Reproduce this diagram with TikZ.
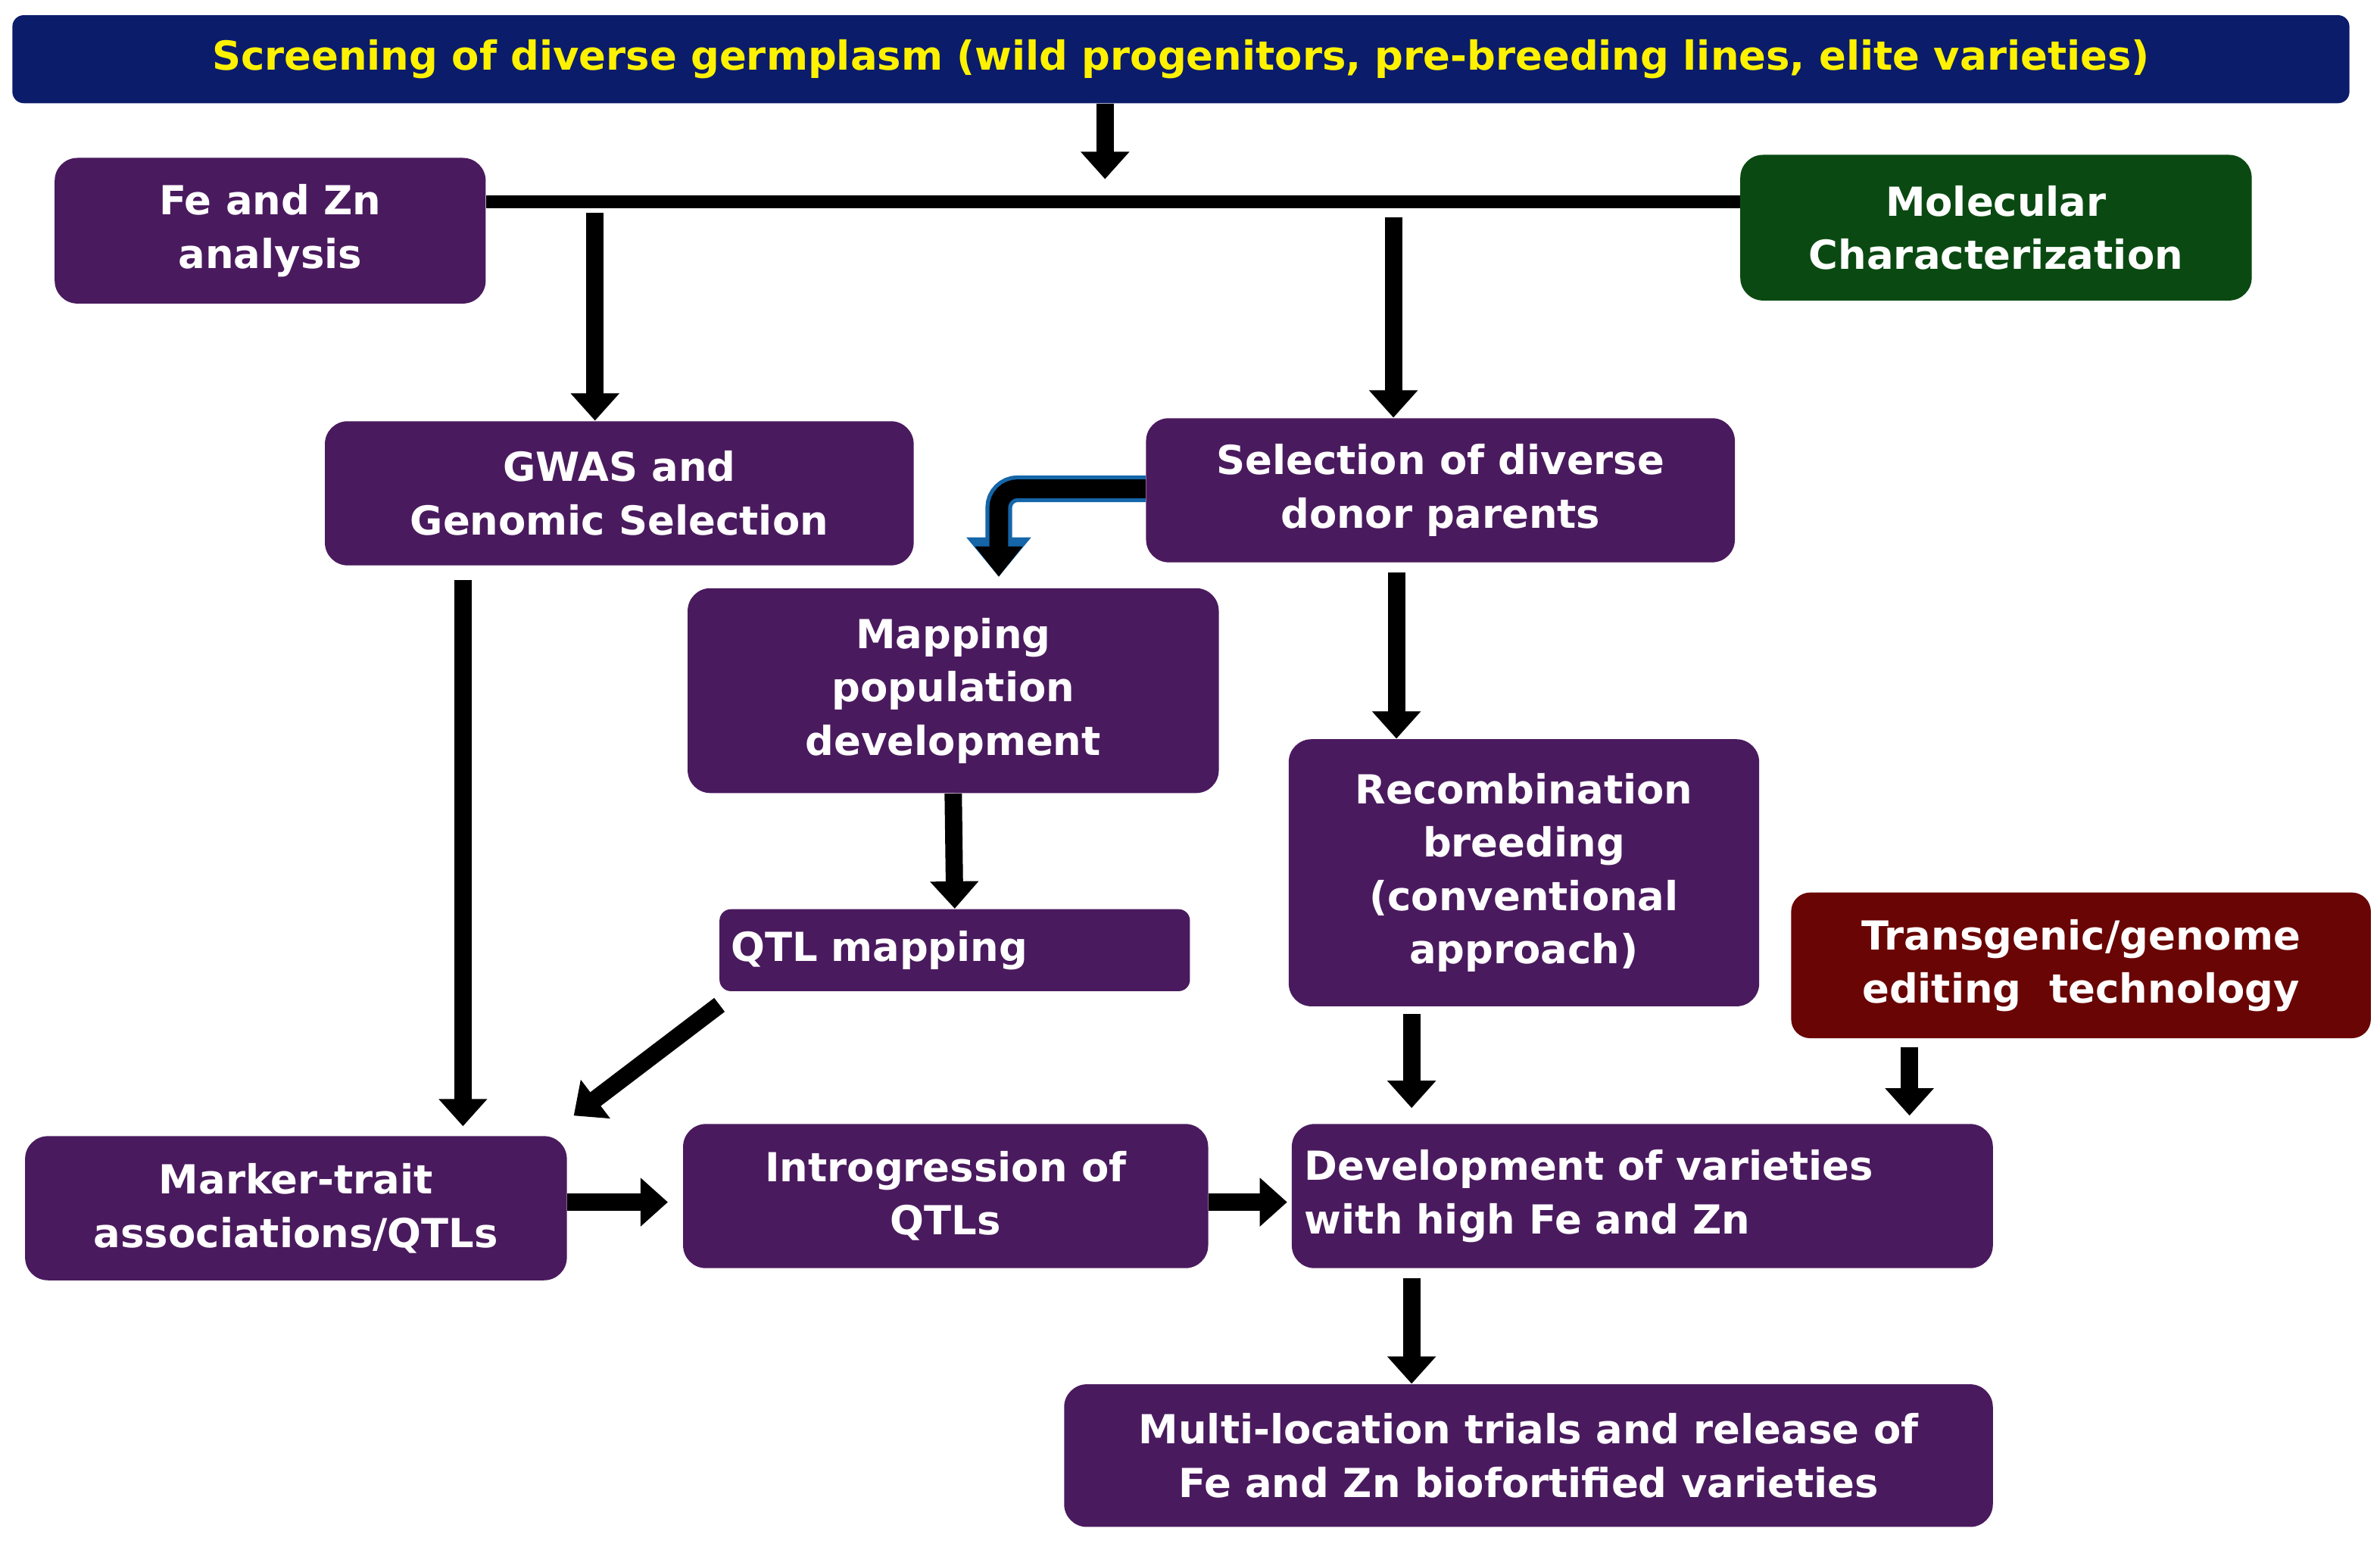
\documentclass[tikz,border=0pt]{standalone}
\usepackage{fontspec}
\setmainfont{DejaVu Sans}
\usetikzlibrary{arrows.meta,positioning}
\definecolor{boxpurple}{HTML}{4A1A5E}
\definecolor{titleblue}{HTML}{0B1C6B}
\definecolor{molgreen}{HTML}{0A4A12}
\definecolor{transred}{HTML}{6A0505}
\definecolor{edgeblue}{HTML}{1466A8}
\tikzset{
  box/.style={draw=none, fill=boxpurple, rounded corners=0.3cm, text=white,
    font=\bfseries\fontsize{15}{20}\selectfont, align=center, inner sep=2pt},
  fatarrow/.style={line width=6.5pt, draw=black,
    -{Triangle[width=0.62cm,length=0.36cm]}},
  bluearrow/.style={line width=7pt, draw=black, rounded corners=0.25cm,
    -{Triangle[width=0.6cm,length=0.4cm]},
    preaction={draw=edgeblue, line width=10pt,
      -{Triangle[width=0.82cm,length=0.52cm]}}}
}
\begin{document}
\begin{tikzpicture}[x=0.02cm,y=-0.02cm]
  \useasboundingbox (0,0) rectangle (1568,1017);

  % title and first row
  \node[box, fill=titleblue, text=yellow, rounded corners=0.15cm,
    minimum width=30.8cm, minimum height=1.16cm] (title) at (778,39)
    {Screening of diverse germplasm (wild progenitors, pre-breeding lines, elite varieties)};
  \node[box, minimum width=5.68cm, minimum height=1.92cm] (fezn) at (178,152) {Fe and Zn\\analysis};
  \node[box, fill=molgreen, minimum width=6.74cm, minimum height=1.92cm] (molchar) at (1315,150) {Molecular\\Characterization};
  \draw[line width=5pt] (fezn.east |- 0,133) -- (molchar.west |- 0,133);
  \coordinate (split) at (728,118);
  \draw[fatarrow] (title.south -| split) -- (split);

  % second row
  \node[box, minimum width=7.76cm, minimum height=1.9cm] (gwas) at (408,325) {GWAS and\\Genomic Selection};
  \node[box, minimum width=7.76cm, minimum height=1.9cm] (select) at (949,323) {Selection of diverse\\donor parents};
  \coordinate (gwastop) at (392,140);
  \coordinate (seltop) at (918,143);
  \draw[fatarrow] (gwastop) -- (gwastop |- gwas.north);
  \draw[fatarrow] (seltop) -- (seltop |- select.north);

  % mapping branch
  \node[box, minimum width=7.0cm, minimum height=2.7cm] (mapping) at (628,455) {Mapping\\population\\development};
  \coordinate (bend) at (658,322);
  \draw[bluearrow] (select.west |- bend) -- (bend) -- (658,380);
  \node[box, rounded corners=0.15cm, minimum width=6.2cm, minimum height=1.08cm,
    text width=5.9cm, align=left] (qtl) at (629,626) {QTL mapping};
  \draw[fatarrow] (mapping.south) -- (qtl.north);

  % conventional branch
  \node[box, minimum width=6.2cm, minimum height=3.52cm] (recomb) at (1004,575) {Recombination\\breeding\\(conventional\\approach)};
  \coordinate (recin) at (920,377);
  \draw[fatarrow] (recin) -- (recin |- recomb.north);
  \node[box, fill=transred, rounded corners=0.25cm, minimum width=7.64cm, minimum height=1.92cm] (transgen) at (1371,636) {Transgenic/genome\\editing\ \ technology};

  % bottom rows
  \node[box, minimum width=7.14cm, minimum height=1.9cm] (marker) at (195,796) {Marker-trait\\associations/QTLs};
  \node[box, minimum width=6.92cm, minimum height=1.9cm] (introg) at (623,788) {Introgression of\\QTLs};
  \node[box, minimum width=9.24cm, minimum height=1.9cm, text width=8.9cm, align=left] (develop) at (1082,788) {Development of varieties\\with high Fe and Zn};
  \node[box, minimum width=12.24cm, minimum height=1.88cm] (multi) at (1007,959) {Multi-location trials and release of\\Fe and Zn biofortified varieties};

  \coordinate (gwasout) at (305,382);
  \draw[fatarrow] (gwasout) -- (305,742);
  \draw[fatarrow] (474,662) -- (378,735);
  \draw[fatarrow] (marker.east |- 0,792) -- (440,792);
  \draw[fatarrow] (introg.east |- 0,792) -- (848,792);
  \coordinate (recout) at (930,668);
  \draw[fatarrow] (recout) -- (930,730);
  \coordinate (transout) at (1258,690);
  \draw[fatarrow] (transout) -- (1258,735);
  \coordinate (devout) at (930,842);
  \draw[fatarrow] (devout) -- (devout |- multi.north);
\end{tikzpicture}
\end{document}
